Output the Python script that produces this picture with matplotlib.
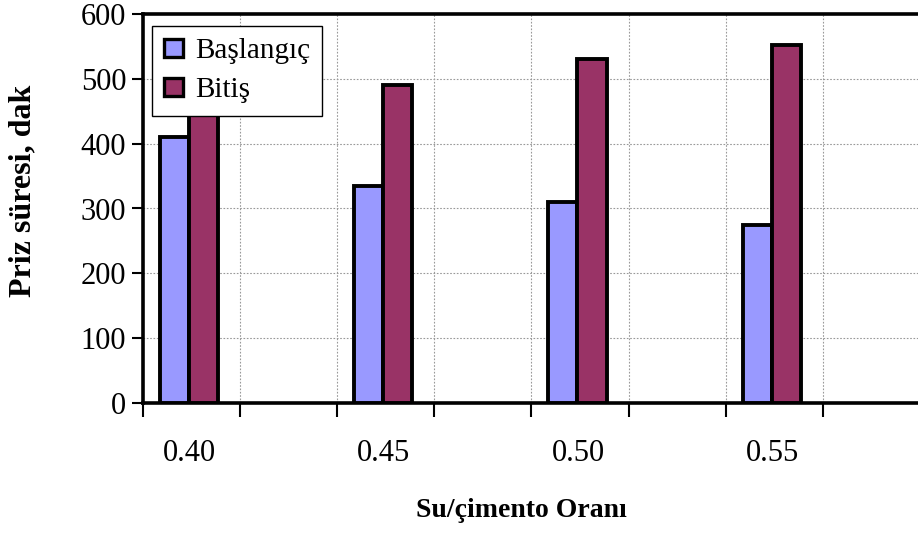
import matplotlib
matplotlib.use("Agg")
import matplotlib.pyplot as plt
import numpy as np

ratios = ["0.40", "0.45", "0.50", "0.55"]
baslangic = [410, 335, 310, 275]
bitis = [460, 490, 530, 552]

plt.rcParams['font.family'] = ['Liberation Serif', 'DejaVu Serif']

fig = plt.figure(figsize=(9.18, 5.33), dpi=100)
ax = fig.add_axes([143/918, 130/533, 1 - 143/918 + 0.002, (403-14)/533])

n_cat = 2 * len(ratios)
idx = np.arange(len(ratios)) * 2
w = 0.3
blue = "#9999FF"
red = "#993366"
ax.bar(idx + 0.3245, baslangic, width=w, color=blue, edgecolor="black", linewidth=2.8,
       label="Başlangıç", zorder=3)
ax.bar(idx + 0.6235, bitis, width=w, color=red, edgecolor="black", linewidth=2.8,
       label="Bitiş", zorder=3)

ax.set_xlim(0, n_cat)
ax.set_ylim(0, 600)
ax.set_yticks(np.arange(0, 601, 100))
ax.set_xticks(np.arange(0, n_cat + 1))
ax.set_xticklabels([])
ax.set_xticks(idx + 0.48, minor=True)
ax.set_xticklabels(ratios, minor=True)
ax.tick_params(axis='x', which='major', direction='out', length=10, width=1.5)
ax.tick_params(axis='x', which='minor', length=0, pad=26, labelsize=22)
ax.tick_params(axis='y', direction='out', length=8, width=1.5, labelsize=22, pad=4)

ax.grid(True, which='major', color='#999999', linestyle=(0, (1.5, 1.5)), linewidth=0.8, zorder=0)
ax.set_axisbelow(True)

for s in ['left', 'bottom', 'top']:
    ax.spines[s].set_linewidth(2.6)
ax.spines['right'].set_visible(False)

ax.set_ylabel("Priz süresi, dak", fontsize=23, fontweight='bold')
ax.yaxis.set_label_coords(-0.136, 0.545)
ax.set_xlabel("Su/çimento Oranı", fontsize=20, fontweight='bold')
ax.xaxis.set_label_coords(0.487, -0.243)

leg = ax.legend(loc='upper left', bbox_to_anchor=(0.0116, 0.969), fontsize=21,
                frameon=True, fancybox=False, edgecolor='black', framealpha=1,
                handlelength=0.65, handleheight=0.6, handletextpad=0.4,
                borderpad=0.42, labelspacing=0.45, borderaxespad=0)
leg.get_frame().set_linewidth(1.0)
for h in leg.legend_handles:
    h.set_linewidth(2.4)

fig.savefig("out.png", dpi=100)
